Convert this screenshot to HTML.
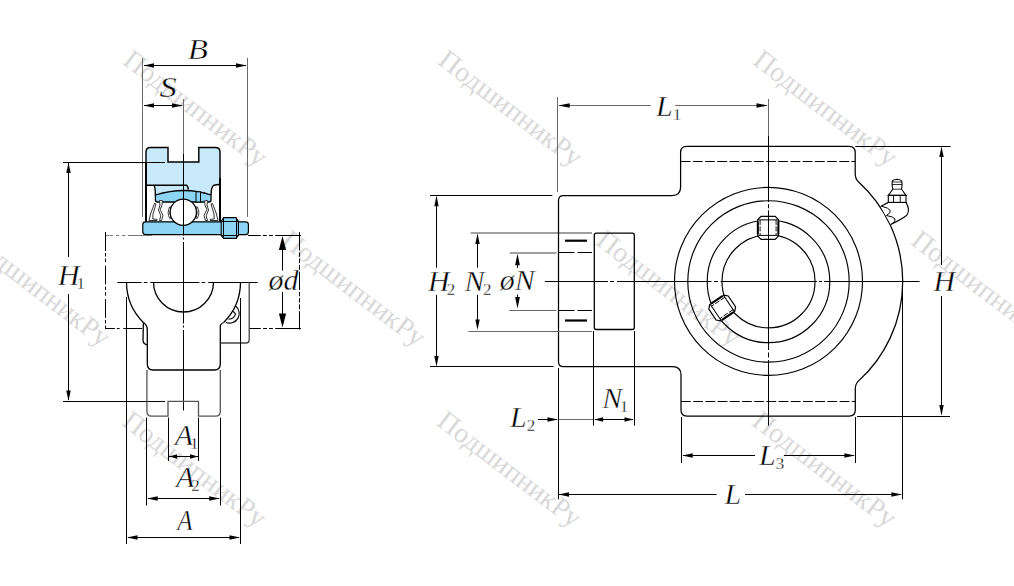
<!DOCTYPE html>
<html><head><meta charset="utf-8"><style>
html,body{margin:0;padding:0;background:#fff;}
svg{display:block;}
text{font-family:"Liberation Serif", serif;}
</style></head><body>
<svg width="1014" height="586" viewBox="0 0 1014 586">
<rect width="1014" height="586" fill="#fff"/>
<text x="121.5" y="63.3" transform="rotate(37.25 121.5 63.3)" font-size="28" fill="#d9d9d9" font-family="Liberation Serif, serif">ПодшипникРу</text>
<text x="436.5" y="63.3" transform="rotate(37.25 436.5 63.3)" font-size="28" fill="#d9d9d9" font-family="Liberation Serif, serif">ПодшипникРу</text>
<text x="751.5" y="63.3" transform="rotate(37.25 751.5 63.3)" font-size="28" fill="#d9d9d9" font-family="Liberation Serif, serif">ПодшипникРу</text>
<text x="-35.5" y="243.5" transform="rotate(37.25 -35.5 243.5)" font-size="28" fill="#d9d9d9" font-family="Liberation Serif, serif">ПодшипникРу</text>
<text x="279.5" y="243.5" transform="rotate(37.25 279.5 243.5)" font-size="28" fill="#d9d9d9" font-family="Liberation Serif, serif">ПодшипникРу</text>
<text x="594.5" y="243.5" transform="rotate(37.25 594.5 243.5)" font-size="28" fill="#d9d9d9" font-family="Liberation Serif, serif">ПодшипникРу</text>
<text x="909.5" y="243.5" transform="rotate(37.25 909.5 243.5)" font-size="28" fill="#d9d9d9" font-family="Liberation Serif, serif">ПодшипникРу</text>
<text x="120.5" y="424.2" transform="rotate(37.25 120.5 424.2)" font-size="28" fill="#d9d9d9" font-family="Liberation Serif, serif">ПодшипникРу</text>
<text x="435.5" y="424.2" transform="rotate(37.25 435.5 424.2)" font-size="28" fill="#d9d9d9" font-family="Liberation Serif, serif">ПодшипникРу</text>
<text x="750.5" y="424.2" transform="rotate(37.25 750.5 424.2)" font-size="28" fill="#d9d9d9" font-family="Liberation Serif, serif">ПодшипникРу</text>
<line x1="142.5" y1="58" x2="142.5" y2="217" stroke="#6a6a6a" stroke-width="1" />
<line x1="247.5" y1="58" x2="247.5" y2="217" stroke="#6a6a6a" stroke-width="1" />
<line x1="144" y1="65.5" x2="246" y2="65.5" stroke="#000" stroke-width="1" />
<path d="M143.50,65.50 L154.00,63.30 L154.00,67.70Z" fill="#000"/>
<path d="M246.50,65.50 L236.00,67.70 L236.00,63.30Z" fill="#000"/>
<text x="0" y="0" transform="translate(197.7,58.8) scale(1.1,1)" text-anchor="middle" font-size="30" font-style="italic" stroke="#fff" stroke-width="0.4">B</text>
<line x1="183.5" y1="99" x2="183.5" y2="154" stroke="#6a6a6a" stroke-width="1" />
<line x1="144" y1="105.5" x2="182" y2="105.5" stroke="#000" stroke-width="1" />
<path d="M143.50,105.50 L154.00,103.30 L154.00,107.70Z" fill="#000"/>
<path d="M182.50,105.50 L172.00,107.70 L172.00,103.30Z" fill="#000"/>
<text x="0" y="0" transform="translate(168.2,97.2) scale(1.15,1)" text-anchor="middle" font-size="30" font-style="italic" stroke="#fff" stroke-width="0.4">S</text>
<line x1="63" y1="401.5" x2="165" y2="401.5" stroke="#000" stroke-width="1" />
<line x1="68.5" y1="163" x2="68.5" y2="257" stroke="#000" stroke-width="1" />
<line x1="68.5" y1="294" x2="68.5" y2="400" stroke="#000" stroke-width="1" />
<path d="M68.50,162.50 L70.70,173.00 L66.30,173.00Z" fill="#000"/>
<path d="M68.50,401.00 L66.30,390.50 L70.70,390.50Z" fill="#000"/>
<text x="57.9" y="284.5" font-size="30" font-style="italic" stroke="#fff" stroke-width="0.4">H<tspan font-style="normal" stroke-width="0.3" font-size="17" dx="-3" dy="4">1</tspan></text>
<path d="M146,185.2 L146,151 Q146,147.5 149.5,147.5 L168,147.5 L168,162 L198.8,162 L198.8,147.5 L216.5,147.5 Q220,147.5 220,151 L220,184.2 L214,185.2 Q211.2,186.5 211,195 Q185,186 155.4,195 Q155.4,186.5 153.7,185.2 Z" fill="#c8e9f9"/>
<path d="M155.4,195 Q185,186 211,195 L211,200 Q211,202 209,202 L157.5,202 Q155.4,202 155.4,200 Z" fill="#8ed5f5" stroke="#000" stroke-width="1.3"/>
<rect x="196" y="191.8" width="4.5" height="10.2" fill="#8ed5f5" stroke="#000" stroke-width="1"/>
<path d="M146,185.2 L153.7,185.2 Q155.4,186.5 155.4,195 M153.7,185.2 L186.4,185.2 Q188,186 188.3,189.6 M220,184.2 L214,185.2 Q211.2,186.5 211,195" fill="none" stroke="#000" stroke-width="1.4"/>
<path d="M146,221.5 L146,152 Q146,147.5 150.5,147.5 L168,147.5 L168,162 L198.8,162 L198.8,147.5 L215.5,147.5 Q220,147.5 220,152 L220,178" fill="none" stroke="#000" stroke-width="1.45"/>
<line x1="146" y1="163" x2="146" y2="221.5" stroke="#000" stroke-width="2" />
<line x1="220" y1="178" x2="220" y2="221.5" stroke="#000" stroke-width="2" />
<path d="M149,220.5 L150.5,214 L154.5,203.5 L156,204 L153,214 L152.8,219 L157,219.3 L157,220.5 Z" fill="#fff" stroke="#333" stroke-width="1"/>
<path d="M159.4,200.6 L162.4,200.6 L162,205.3 L160.2,209.5 L163,215.5 L161.5,220.5 L159.5,220.5 L160.8,215.8 L158.5,210 L160,205 Z" fill="#fff" stroke="#333" stroke-width="1"/>
<path d="M169.8,206.8 Q166.5,212.5 169.8,218.6 L171,218 Q168.5,212.5 171,207.2 Z" fill="#fff" stroke="#333" stroke-width="1"/>
<g transform="translate(367,0) scale(-1,1)"><path d="M149,220.5 L150.5,214 L154.5,203.5 L156,204 L153,214 L152.8,219 L157,219.3 L157,220.5 Z" fill="#fff" stroke="#333" stroke-width="1"/><path d="M159.4,200.6 L162.4,200.6 L162,205.3 L160.2,209.5 L163,215.5 L161.5,220.5 L159.5,220.5 L160.8,215.8 L158.5,210 L160,205 Z" fill="#fff" stroke="#333" stroke-width="1"/><path d="M169.8,206.8 Q166.5,212.5 169.8,218.6 L171,218 Q168.5,212.5 171,207.2 Z" fill="#fff" stroke="#333" stroke-width="1"/></g>
<rect x="142.8" y="221.8" width="105.6" height="12.8" rx="2.8" fill="#8ed5f5" stroke="#000" stroke-width="1.2"/>
<circle cx="183.3" cy="212.2" r="13.1" fill="#fff" stroke="#000" stroke-width="1.2"/>
<path d="M223.7,217.6 L236,217.6 L238.4,221.5 L238.4,235.6 L236,238.4 L223.7,238.4 L221.2,235.6 L221.2,221.5 Z" fill="#8ed5f5" stroke="#000" stroke-width="1.1"/>
<line x1="221.2" y1="221.5" x2="238.4" y2="221.5" stroke="#000" stroke-width="1" />
<line x1="221.2" y1="235.5" x2="238.4" y2="235.5" stroke="#000" stroke-width="1" />
<line x1="223.5" y1="217.6" x2="223.5" y2="238.4" stroke="#000" stroke-width="1" />
<line x1="236.5" y1="217.6" x2="236.5" y2="238.4" stroke="#000" stroke-width="1" />
<line x1="63" y1="162.5" x2="165" y2="162.5" stroke="#000" stroke-width="1" />
<line x1="183.5" y1="154" x2="183.5" y2="410.5" stroke="#000" stroke-width="1" stroke-dasharray="81.5 2 2 2.5"/>
<line x1="105.4" y1="235.5" x2="109.2" y2="235.5" stroke="#777" stroke-width="1" />
<line x1="109.8" y1="235.5" x2="113" y2="235.5" stroke="#777" stroke-width="1" />
<line x1="115.9" y1="235.5" x2="119.2" y2="235.5" stroke="#777" stroke-width="1" />
<line x1="122.1" y1="235.5" x2="125.4" y2="235.5" stroke="#777" stroke-width="1" />
<line x1="128" y1="235.5" x2="152" y2="235.5" stroke="#777" stroke-width="1" />
<line x1="248" y1="235.5" x2="260.8" y2="235.5" stroke="#000" stroke-width="1" />
<line x1="262.8" y1="235.5" x2="266.7" y2="235.5" stroke="#000" stroke-width="1" />
<line x1="269" y1="235.5" x2="272.9" y2="235.5" stroke="#000" stroke-width="1" />
<line x1="275.2" y1="235.5" x2="300.9" y2="235.5" stroke="#000" stroke-width="1" />
<line x1="105.4" y1="328.5" x2="114.9" y2="328.5" stroke="#000" stroke-width="1" />
<line x1="116.8" y1="328.5" x2="119.6" y2="328.5" stroke="#000" stroke-width="1" />
<line x1="123.3" y1="328.5" x2="125.9" y2="328.5" stroke="#000" stroke-width="1" />
<line x1="127" y1="328.5" x2="142.2" y2="328.5" stroke="#000" stroke-width="1" />
<line x1="249.1" y1="328.5" x2="260.8" y2="328.5" stroke="#000" stroke-width="1" />
<line x1="263.1" y1="328.5" x2="267" y2="328.5" stroke="#000" stroke-width="1" />
<line x1="269" y1="328.5" x2="272.9" y2="328.5" stroke="#000" stroke-width="1" />
<line x1="275.2" y1="328.5" x2="300.9" y2="328.5" stroke="#000" stroke-width="1" />
<line x1="105.5" y1="232.1" x2="105.5" y2="330.7" stroke="#000" stroke-width="1" stroke-dasharray="18.8 2.1 3.5 2.1 3.5 3.5"/>
<line x1="299.5" y1="232.2" x2="299.5" y2="330.7" stroke="#000" stroke-width="1" stroke-dasharray="18.3 1.8 4.5 1.8 4.5 1.8 5 1.8"/>
<line x1="282.5" y1="246" x2="282.5" y2="270.6" stroke="#000" stroke-width="1" />
<line x1="282.5" y1="291.9" x2="282.5" y2="316" stroke="#000" stroke-width="1" />
<path d="M282.50,236.00 L286.10,250.00 L278.90,250.00Z" fill="#000"/>
<path d="M282.50,327.50 L278.90,313.50 L286.10,313.50Z" fill="#000"/>
<text x="268.5" y="289.8" font-size="30" font-style="italic" text-anchor="start" fill="#000" stroke="#fff" stroke-width="0.4" >ød</text>
<line x1="117.2" y1="282.5" x2="141.6" y2="282.5" stroke="#000" stroke-width="1" />
<line x1="143.8" y1="282.5" x2="147.5" y2="282.5" stroke="#000" stroke-width="1" />
<line x1="150.2" y1="282.5" x2="199.3" y2="282.5" stroke="#000" stroke-width="1" />
<line x1="201.5" y1="282.5" x2="205.2" y2="282.5" stroke="#000" stroke-width="1" />
<line x1="208.2" y1="282.5" x2="257.7" y2="282.5" stroke="#000" stroke-width="1" />
<path d="M126.5,282 A57,57 0 0 0 143.39,322.5 M223.61,322.5 A57,57 0 0 0 240.5,282" fill="none" stroke="#000" stroke-width="1.3"/>
<path d="M153.5,282 A30,30 0 0 0 213.5,282" fill="none" stroke="#000" stroke-width="1.3"/>
<path d="M143.39,322.5 L143,340 Q143,344 147.3,345 M143.3,322.5 Q147.3,325 147.3,330 L147.3,364 Q147.3,370 153.3,370 L214.3,370 Q220.3,370 220.3,364 L220.3,325.5 Q221,323.5 223.61,322.5" fill="none" stroke="#000" stroke-width="1.3"/>
<path d="M220.5,343 L246,343 Q249.2,343 249.2,340 L249.2,282" fill="none" stroke="#444" stroke-width="1.3"/>
<path d="M235.6,306 A9.6,9.6 0 0 1 226,322.4 M232.8,310.8 L235.5,313.8 Q234.5,318.5 228.5,319.2" fill="none" stroke="#000" stroke-width="1.1"/>
<path d="M146.9,370 L146.9,411.5 Q146.9,416.2 151.6,416.2 L168,416.2 L168,401.3 L198.5,401.3 L198.5,416.2 L215.6,416.2 Q220.3,416.2 220.3,411.5 L220.3,370" fill="none" stroke="#555" stroke-width="1.3"/>
<line x1="126.5" y1="297" x2="126.5" y2="544" stroke="#000" stroke-width="1" />
<line x1="240.5" y1="298" x2="240.5" y2="544" stroke="#000" stroke-width="1" />
<line x1="146.5" y1="417.6" x2="146.5" y2="505.5" stroke="#000" stroke-width="1" />
<line x1="220.5" y1="417.6" x2="220.5" y2="505.5" stroke="#000" stroke-width="1" />
<line x1="168.5" y1="417.6" x2="168.5" y2="461" stroke="#000" stroke-width="1" />
<line x1="198.5" y1="417.6" x2="198.5" y2="461" stroke="#000" stroke-width="1" />
<line x1="128" y1="537.5" x2="239" y2="537.5" stroke="#000" stroke-width="1" />
<path d="M127.00,537.50 L137.50,535.30 L137.50,539.70Z" fill="#000"/>
<path d="M240.00,537.50 L229.50,539.70 L229.50,535.30Z" fill="#000"/>
<line x1="148" y1="498.5" x2="219" y2="498.5" stroke="#000" stroke-width="1" />
<path d="M147.20,498.50 L157.70,496.30 L157.70,500.70Z" fill="#000"/>
<path d="M219.70,498.50 L209.20,500.70 L209.20,496.30Z" fill="#000"/>
<line x1="169" y1="456.5" x2="198" y2="456.5" stroke="#000" stroke-width="1" />
<path d="M169.10,456.50 L177.10,454.30 L177.10,458.70Z" fill="#000"/>
<path d="M198.00,456.50 L190.00,458.70 L190.00,454.30Z" fill="#000"/>
<text x="0" y="0" transform="translate(177.2,530) scale(0.84,1)" font-size="30" font-style="italic" stroke="#fff" stroke-width="0.4">A</text>
<text x="175.9" y="487" font-size="30" font-style="italic" stroke="#fff" stroke-width="0.4">A<tspan font-style="normal" stroke-width="0.3" font-size="17" dx="-3" dy="4">2</tspan></text>
<text x="174.7" y="444.7" font-size="30" font-style="italic" stroke="#fff" stroke-width="0.4">A<tspan font-style="normal" stroke-width="0.3" font-size="17" dx="-3" dy="4">1</tspan></text>
<path d="M563.5,195.5 L672,195.5 Q680.6,195.5 680.6,187 L680.6,152.4 Q680.6,146.3 686.8,146.3 L849,146.3 Q855.2,146.3 855.2,152.5 L855.2,173.8 Q855.2,178.9 858.6,181.94 A134.2,134.2 0 0 1 858.6,380.86 Q855.3,383.9 855.3,388.9 L855.3,410 Q855.3,416 849.3,416 L687,416 Q681,416 681,410 L681,375 Q681,366.7 672.5,366.7 L563.5,366.7 Q558.5,366.7 558.5,361.7 L558.5,200.5 Q558.5,195.5 563.5,195.5 Z" fill="none" stroke="#000" stroke-width="1.25"/>
<line x1="680.7" y1="161.5" x2="855.2" y2="161.5" stroke="#000" stroke-width="1.1" stroke-dasharray="9.8 2.4"/>
<line x1="681" y1="401.5" x2="855.3" y2="401.5" stroke="#000" stroke-width="1.1" stroke-dasharray="9.8 2.4"/>
<circle cx="768.5" cy="281.4" r="94.0" fill="none" stroke="#000" stroke-width="1.15"/>
<circle cx="768.5" cy="281.4" r="80.7" fill="none" stroke="#000" stroke-width="1.15"/>
<circle cx="768.5" cy="281.4" r="61.3" fill="none" stroke="#000" stroke-width="1.15"/>
<circle cx="768.5" cy="281.4" r="46.5" fill="none" stroke="#000" stroke-width="1.15"/>
<line x1="768.5" y1="99" x2="768.5" y2="136" stroke="#6a6a6a" stroke-width="1" />
<line x1="768.5" y1="136" x2="768.5" y2="202" stroke="#000" stroke-width="1" />
<line x1="768.5" y1="204.2" x2="768.5" y2="208.3" stroke="#000" stroke-width="1" />
<line x1="768.5" y1="210.3" x2="768.5" y2="350" stroke="#000" stroke-width="1" />
<line x1="768.5" y1="352.5" x2="768.5" y2="357.5" stroke="#000" stroke-width="1" />
<line x1="768.5" y1="360" x2="768.5" y2="425.6" stroke="#000" stroke-width="1" />
<line x1="544.9" y1="281.5" x2="608" y2="281.5" stroke="#000" stroke-width="1" />
<line x1="610" y1="281.5" x2="614" y2="281.5" stroke="#000" stroke-width="1" />
<line x1="617" y1="281.5" x2="711.5" y2="281.5" stroke="#000" stroke-width="1" />
<line x1="713.8" y1="281.5" x2="718" y2="281.5" stroke="#000" stroke-width="1" />
<line x1="720.6" y1="281.5" x2="817" y2="281.5" stroke="#000" stroke-width="1" />
<line x1="819" y1="281.5" x2="822" y2="281.5" stroke="#000" stroke-width="1" />
<line x1="824" y1="281.5" x2="919.5" y2="281.5" stroke="#000" stroke-width="1" />
<g transform="translate(768.1,227.8) rotate(0)"><path d="M-7.1000000000000005,-11.5 L7.1000000000000005,-11.5 L10.3,-8.3 L10.3,8.3 L7.1000000000000005,11.5 L-7.1000000000000005,11.5 L-10.3,8.3 L-10.3,-8.3 Z" fill="#fff" stroke="#000" stroke-width="1.2"/><line x1="-9.8" y1="-7.9" x2="9.8" y2="-7.9" stroke="#000" stroke-width="1"/><line x1="-9.8" y1="7.6" x2="9.8" y2="7.6" stroke="#000" stroke-width="1"/><line x1="-8.0" y1="-7.9" x2="-8.0" y2="7.6" stroke="#000" stroke-width="0.9" stroke-dasharray="5 1.5"/><line x1="8.0" y1="-7.9" x2="8.0" y2="7.6" stroke="#000" stroke-width="0.9" stroke-dasharray="5 1.5"/><line x1="-10.3" y1="-6.5" x2="-10.3" y2="6.5" stroke="#000" stroke-width="2"/><line x1="10.3" y1="-6.5" x2="10.3" y2="6.5" stroke="#000" stroke-width="2"/></g>
<g transform="translate(722.2,308) rotate(56)"><path d="M-6.55,-11.75 L6.55,-11.75 L9.75,-8.55 L9.75,8.55 L6.55,11.75 L-6.55,11.75 L-9.75,8.55 L-9.75,-8.55 Z" fill="#fff" stroke="#000" stroke-width="1.2"/><line x1="-9.25" y1="-8.15" x2="9.25" y2="-8.15" stroke="#000" stroke-width="1"/><line x1="-9.25" y1="7.85" x2="9.25" y2="7.85" stroke="#000" stroke-width="1"/><line x1="-7.45" y1="-8.15" x2="-7.45" y2="7.85" stroke="#000" stroke-width="0.9" stroke-dasharray="5 1.5"/><line x1="7.45" y1="-8.15" x2="7.45" y2="7.85" stroke="#000" stroke-width="0.9" stroke-dasharray="5 1.5"/><line x1="-9.75" y1="-6.75" x2="-9.75" y2="6.75" stroke="#000" stroke-width="2"/><line x1="9.75" y1="-6.75" x2="9.75" y2="6.75" stroke="#000" stroke-width="2"/></g>
<line x1="768.5" y1="212" x2="768.5" y2="244" stroke="#000" stroke-width="1" />
<rect x="594.3" y="233.2" width="40" height="96.3" rx="2" fill="none" stroke="#000" stroke-width="1.3"/>
<line x1="565" y1="240.7" x2="587" y2="240.7" stroke="#000" stroke-width="2.2" />
<line x1="565" y1="320.5" x2="587" y2="320.5" stroke="#000" stroke-width="2.2" />
<line x1="470.7" y1="233" x2="592" y2="233" stroke="#000" stroke-width="0.75"/>
<line x1="468.4" y1="331.5" x2="592" y2="331.5" stroke="#6a6a6a" stroke-width="1" />
<line x1="509.7" y1="253" x2="556.4" y2="253" stroke="#000" stroke-width="0.75"/>
<line x1="558.8" y1="252.5" x2="574.5" y2="252.5" stroke="#000" stroke-width="1" />
<line x1="577.5" y1="252.5" x2="592" y2="252.5" stroke="#000" stroke-width="1" />
<line x1="509.4" y1="310.5" x2="556.4" y2="310.5" stroke="#6a6a6a" stroke-width="1" />
<line x1="558.8" y1="310.5" x2="574.5" y2="310.5" stroke="#000" stroke-width="1" />
<line x1="577.5" y1="310.5" x2="592" y2="310.5" stroke="#000" stroke-width="1" />
<line x1="430" y1="195.5" x2="552.3" y2="195.5" stroke="#000" stroke-width="1" />
<line x1="430" y1="366.5" x2="553.7" y2="366.5" stroke="#000" stroke-width="1" />
<line x1="436.5" y1="197" x2="436.5" y2="267.7" stroke="#000" stroke-width="1" />
<line x1="436.5" y1="294.9" x2="436.5" y2="365" stroke="#000" stroke-width="1" />
<path d="M436.50,195.80 L438.70,206.30 L434.30,206.30Z" fill="#000"/>
<path d="M436.50,366.40 L434.30,355.90 L438.70,355.90Z" fill="#000"/>
<line x1="477.5" y1="235" x2="477.5" y2="267.7" stroke="#000" stroke-width="1" />
<line x1="477.5" y1="294.9" x2="477.5" y2="328" stroke="#000" stroke-width="1" />
<path d="M477.50,233.60 L479.70,244.10 L475.30,244.10Z" fill="#000"/>
<path d="M477.50,330.00 L475.30,319.50 L479.70,319.50Z" fill="#000"/>
<line x1="517.5" y1="260" x2="517.5" y2="268" stroke="#000" stroke-width="1" />
<line x1="517.5" y1="294.6" x2="517.5" y2="303" stroke="#000" stroke-width="1" />
<path d="M517.50,253.70 L519.90,265.30 L515.10,265.30Z" fill="#000"/>
<path d="M517.50,308.50 L515.10,296.90 L519.90,296.90Z" fill="#000"/>
<text x="428" y="290.5" font-size="30" font-style="italic" stroke="#fff" stroke-width="0.4">H<tspan font-style="normal" stroke-width="0.3" font-size="17" dx="-3" dy="4">2</tspan></text>
<text x="464.4" y="290.5" font-size="30" font-style="italic" stroke="#fff" stroke-width="0.4">N<tspan font-style="normal" stroke-width="0.3" font-size="17" dx="-1.5" dy="4">2</tspan></text>
<text x="499.8" y="290.3" font-size="30" font-style="italic" text-anchor="start" fill="#000" stroke="#fff" stroke-width="0.4" >øN</text>
<line x1="557.5" y1="97" x2="557.5" y2="192" stroke="#6a6a6a" stroke-width="1" />
<line x1="559" y1="105.5" x2="650.8" y2="105.5" stroke="#6a6a6a" stroke-width="1" />
<line x1="675.2" y1="105.5" x2="767" y2="105.5" stroke="#6a6a6a" stroke-width="1" />
<path d="M558.40,105.50 L569.70,103.20 L569.70,107.80Z" fill="#000"/>
<path d="M767.80,105.50 L756.50,107.80 L756.50,103.20Z" fill="#000"/>
<text x="656" y="116" font-size="30" font-style="italic" stroke="#fff" stroke-width="0.4">L<tspan font-style="normal" stroke-width="0.3" font-size="17" dx="0" dy="4">1</tspan></text>
<line x1="593.5" y1="331" x2="593.5" y2="425.6" stroke="#000" stroke-width="1" />
<line x1="634.5" y1="331" x2="634.5" y2="425.6" stroke="#000" stroke-width="1" />
<line x1="538" y1="419.5" x2="557" y2="419.5" stroke="#000" stroke-width="1" />
<path d="M558.00,419.50 L547.50,421.70 L547.50,417.30Z" fill="#000"/>
<line x1="559" y1="419.5" x2="593" y2="419.5" stroke="#6a6a6a" stroke-width="1" />
<line x1="595" y1="419.5" x2="633" y2="419.5" stroke="#000" stroke-width="1" />
<path d="M594.10,419.50 L603.10,417.30 L603.10,421.70Z" fill="#000"/>
<path d="M633.50,419.50 L624.50,421.70 L624.50,417.30Z" fill="#000"/>
<text x="510" y="426.5" font-size="30" font-style="italic" stroke="#fff" stroke-width="0.4">L<tspan font-style="normal" stroke-width="0.3" font-size="17" dx="0" dy="4">2</tspan></text>
<text x="602.2" y="408" font-size="30" font-style="italic" stroke="#fff" stroke-width="0.4">N<tspan font-style="normal" stroke-width="0.3" font-size="17" dx="-2.5" dy="4">1</tspan></text>
<line x1="681.5" y1="417" x2="681.5" y2="463" stroke="#000" stroke-width="1" />
<line x1="855.5" y1="417" x2="855.5" y2="463" stroke="#000" stroke-width="1" />
<line x1="683" y1="455.5" x2="755" y2="455.5" stroke="#000" stroke-width="1" />
<line x1="783.9" y1="455.5" x2="854" y2="455.5" stroke="#000" stroke-width="1" />
<path d="M682.20,455.50 L692.70,453.30 L692.70,457.70Z" fill="#000"/>
<path d="M854.90,455.50 L844.40,457.70 L844.40,453.30Z" fill="#000"/>
<text x="759" y="464.5" font-size="30" font-style="italic" stroke="#fff" stroke-width="0.4">L<tspan font-style="normal" stroke-width="0.3" font-size="17" dx="0" dy="4">3</tspan></text>
<line x1="558.5" y1="368" x2="558.5" y2="499.3" stroke="#000" stroke-width="1" />
<line x1="902.5" y1="282" x2="902.5" y2="499.3" stroke="#000" stroke-width="1" />
<line x1="559" y1="494.5" x2="716.6" y2="494.5" stroke="#000" stroke-width="1" />
<line x1="745" y1="494.5" x2="901" y2="494.5" stroke="#000" stroke-width="1" />
<path d="M558.50,494.50 L569.00,492.30 L569.00,496.70Z" fill="#000"/>
<path d="M901.90,494.50 L891.40,496.70 L891.40,492.30Z" fill="#000"/>
<text x="724.5" y="503.5" font-size="30" font-style="italic" text-anchor="start" fill="#000" stroke="#fff" stroke-width="0.4" >L</text>
<line x1="855.4" y1="146.5" x2="950.6" y2="146.5" stroke="#000" stroke-width="1" />
<line x1="857" y1="416.5" x2="950" y2="416.5" stroke="#000" stroke-width="1" />
<line x1="941.5" y1="148" x2="941.5" y2="265" stroke="#000" stroke-width="1" />
<line x1="941.5" y1="296" x2="941.5" y2="414" stroke="#000" stroke-width="1" />
<path d="M941.50,146.50 L943.70,157.00 L939.30,157.00Z" fill="#000"/>
<path d="M941.50,415.50 L939.30,405.00 L943.70,405.00Z" fill="#000"/>
<text x="933.5" y="290.5" font-size="30" font-style="italic" text-anchor="start" fill="#000" stroke="#fff" stroke-width="0.4" >H</text>
<path d="M880.6,206.4 L888.3,202.4 L906,202.4 Q910.5,210 907,215 Q903,218.5 890.7,224.6" fill="#fff" stroke="#000" stroke-width="1.1"/>
<path d="M881.5,206.2 Q896.4,209.8 886.4,215.5 M886.4,215.5 Q901.2,218 891.2,224.4" fill="none" stroke="#000" stroke-width="1"/>
<path d="M888.3,195.4 L892.8,189.2 Q891.6,185 892.3,181 Q893.5,179.8 896.9,179.3 Q900.8,179.8 901.8,181 Q902.5,185 901.6,189.2 L906,195.4 Z" fill="#fff" stroke="#000" stroke-width="1.1"/>
<path d="M892.2,182 L901.8,182 M892,184.5 L902,184.5 M892.6,189.2 L901.8,189.2" fill="none" stroke="#000" stroke-width="0.8"/>
<rect x="888.3" y="195.4" width="17.7" height="7" fill="#fff" stroke="#000" stroke-width="1.1"/>
<path d="M893.5,195.4 L893.5,202.4 M900.2,195.4 L900.2,202.4" fill="none" stroke="#000" stroke-width="0.9"/>
</svg></body></html>
